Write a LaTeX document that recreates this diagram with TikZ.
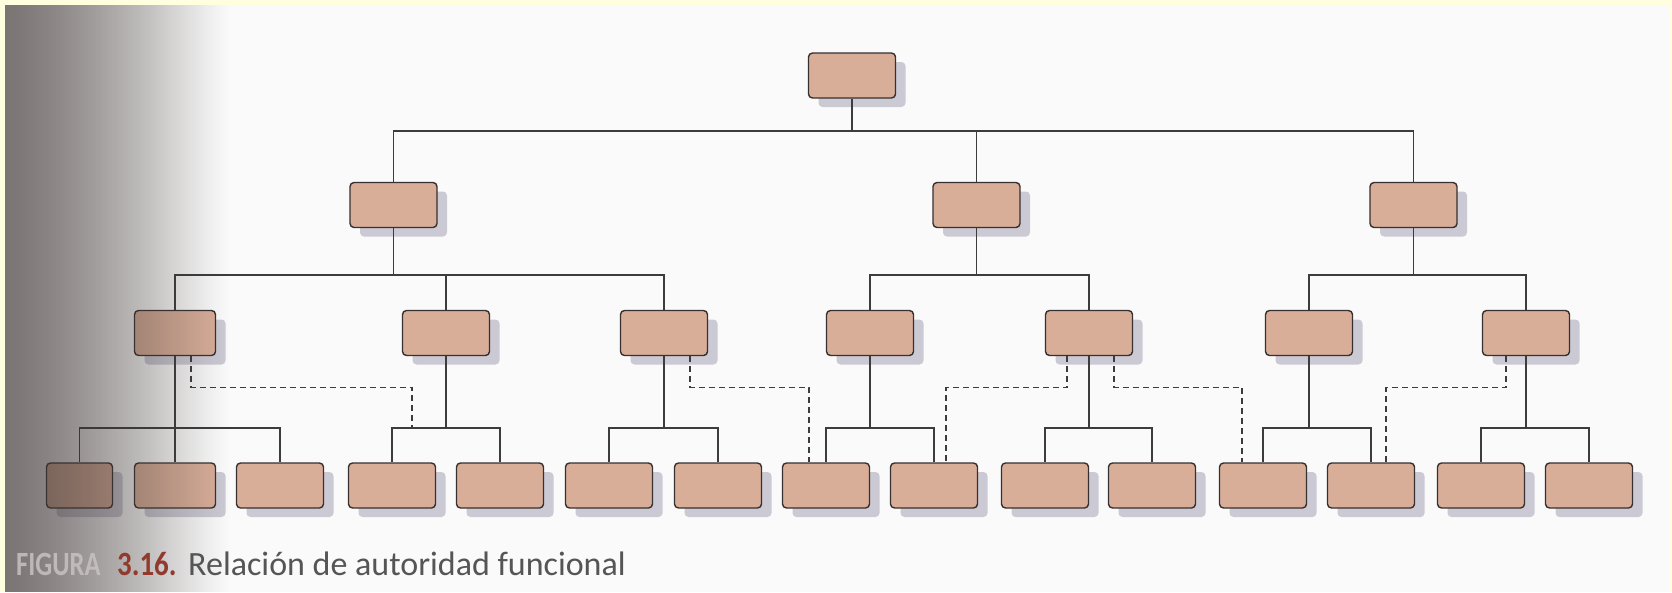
\documentclass[tikz,border=0pt]{standalone}
\usepackage{fontspec}
\setmainfont{Carlito}
\usetikzlibrary{shadows,calc}

\definecolor{frame}{RGB}{255,255,224}
\definecolor{paper}{RGB}{250,250,250}
\definecolor{boxfill}{RGB}{217,174,153}
\definecolor{boxline}{RGB}{55,48,48}
\definecolor{shadowcol}{RGB}{203,201,211}
\definecolor{linecol}{RGB}{60,60,60}
\definecolor{gutter}{RGB}{60,52,50}
\definecolor{fignum}{RGB}{145,58,45}
\definecolor{captext}{RGB}{85,85,85}
\definecolor{fadedtext}{RGB}{200,194,194}

\begin{document}
\begin{tikzpicture}[x=1pt, y=-1pt,
  unit/.style={draw=boxline, line width=1.4pt, fill=boxfill, rounded corners=4pt,
    minimum width=87pt, minimum height=45pt, inner sep=0pt,
    general shadow={fill=shadowcol, shadow xshift=10pt, shadow yshift=-9pt}},
  link/.style={draw=linecol, line width=1.3pt},
  fn/.style={draw=linecol, line width=1.3pt, dash pattern=on 6pt off 4pt},
  captionfont/.style={font=\fontsize{34}{40}\selectfont, inner sep=0pt}]

\useasboundingbox (0,0) rectangle (1672,592);
\fill[frame] (0,0) rectangle (1672,592);
\fill[paper] (5,5) rectangle (1670,592);

% bus levels
\coordinate (busA) at (0,131);
\coordinate (busB) at (0,275);
\coordinate (busC) at (0,428);

% top
\node[unit] (top) at (852,75.5) {};

% first level
\node[unit] (d1) at (393.5,205) {};
\node[unit] (d2) at (976.5,205) {};
\node[unit] (d3) at (1413.5,205) {};

% second level
\node[unit, minimum width=81pt] (s1) at (175,333) {};
\node[unit] (s2) at (446,333) {};
\node[unit] (s3) at (664,333) {};
\node[unit] (s4) at (870,333) {};
\node[unit] (s5) at (1089,333) {};
\node[unit] (s6) at (1309,333) {};
\node[unit] (s7) at (1526,333) {};

% bottom level
\node[unit, minimum width=66pt] (b1) at (79.5,485.5) {};
\node[unit, minimum width=81pt] (b2) at (175,485.5) {};
\node[unit] (b3) at (280,485.5) {};
\node[unit] (b4) at (392,485.5) {};
\node[unit] (b5) at (500,485.5) {};
\node[unit] (b6) at (609,485.5) {};
\node[unit] (b7) at (718,485.5) {};
\node[unit] (b8) at (826,485.5) {};
\node[unit] (b9) at (934,485.5) {};
\node[unit] (b10) at (1045,485.5) {};
\node[unit] (b11) at (1152,485.5) {};
\node[unit] (b12) at (1263,485.5) {};
\node[unit] (b13) at (1371,485.5) {};
\node[unit] (b14) at (1481,485.5) {};
\node[unit] (b15) at (1589,485.5) {};

% line authority
\draw[link] (top.south) -- (top.south |- busA);
\foreach \c in {d1,d2,d3} \draw[link] (top.south |- busA) -| (\c.north);

\draw[link] (d1.south) -- (d1.south |- busB);
\foreach \c in {s1,s2,s3} \draw[link] (d1.south |- busB) -| (\c.north);
\draw[link] (d2.south) -- (d2.south |- busB);
\foreach \c in {s4,s5} \draw[link] (d2.south |- busB) -| (\c.north);
\draw[link] (d3.south) -- (d3.south |- busB);
\foreach \c in {s6,s7} \draw[link] (d3.south |- busB) -| (\c.north);

\draw[link] (s1.south) -- (s1.south |- busC);
\foreach \c in {b1,b2,b3} \draw[link] (s1.south |- busC) -| (\c.north);
\foreach \p/\l/\r in {s2/b4/b5, s3/b6/b7, s4/b8/b9, s5/b10/b11, s6/b12/b13, s7/b14/b15}{
  \draw[link] (\p.south) -- (\p.south |- busC);
  \draw[link] (\p.south |- busC) -| (\l.north);
  \draw[link] (\p.south |- busC) -| (\r.north);
}

% functional authority
\coordinate (f1end) at (412,428);
\draw[fn] ([xshift=16pt]s1.south) -- ++(0,31.5) -| (f1end);
\draw[fn] ([xshift=26pt]s3.south) -- ++(0,31.5) -| ([xshift=-17pt]b8.north);
\draw[fn] ([xshift=-22pt]s5.south) -- ++(0,31.5) -| ([xshift=12pt]b9.north);
\draw[fn] ([xshift=25pt]s5.south) -- ++(0,31.5) -| ([xshift=-21pt]b12.north);
\draw[fn] ([xshift=-20pt]s7.south) -- ++(0,31.5) -| ([xshift=15pt]b13.north);

% binding shade: darkening that fades out towards the page
\foreach \i in {0,...,224}{
  \pgfmathsetmacro{\op}{0.67*(1-(\i/225)^1.3)*(1-0.5*(\i/225)^6)}
  \fill[gutter, opacity=\op] (5+\i,5) rectangle (6+\i,592);
}

% caption
\node[captionfont, anchor=base west, text=fadedtext, opacity=0.85] (figword) at (16,575)
  {\scalebox{0.78}[1]{\bfseries FIGURA}};
\node[captionfont, anchor=base west, text=fignum] (fignr) at (117,575)
  {\scalebox{0.85}[1]{\bfseries 3.16.}};
\node[captionfont, anchor=base west, text=captext] (figtitle) at (188,575) {Relación de autoridad funcional};
\end{tikzpicture}
\end{document}
